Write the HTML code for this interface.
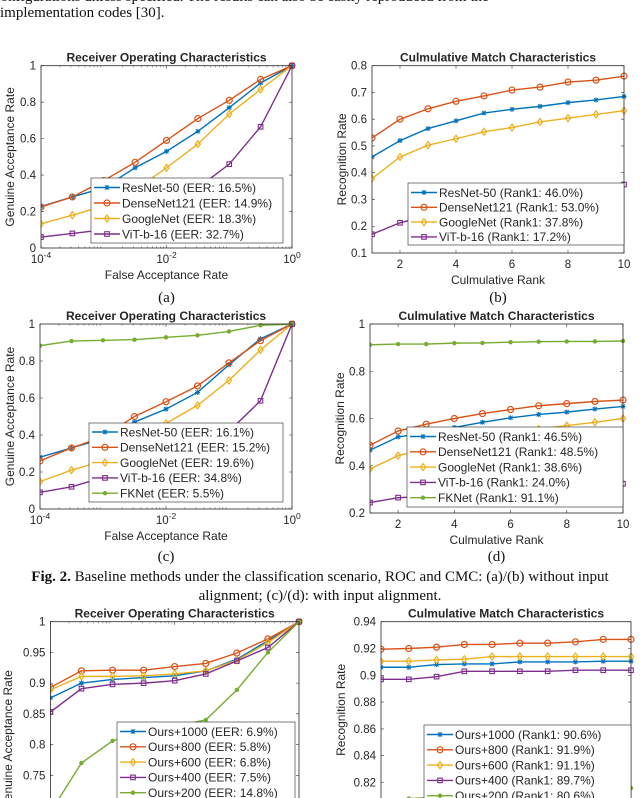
<!DOCTYPE html>
<html><head><meta charset="utf-8">
<style>
html,body{margin:0;padding:0;background:#fff;width:640px;height:798px;overflow:hidden}
svg{display:block}
text{font-family:"Liberation Sans",sans-serif;fill:#262626}
.serif{font-family:"Liberation Serif",serif;fill:#111}
</style></head>
<body>
<svg id="fig" width="640" height="798" viewBox="0 0 640 798" xmlns="http://www.w3.org/2000/svg">
<text class="serif" x="-6" y="1" font-size="15">configurations unless specified. The results can also be easily reproduced from the</text>
<text class="serif" x="0" y="17" font-size="15">implementation codes [30].</text>
<text class="serif" x="320" y="581" font-size="15" text-anchor="middle"><tspan font-weight="bold">Fig. 2.</tspan> Baseline methods under the classification scenario, ROC and CMC: (a)/(b) without input</text>
<text class="serif" x="320" y="600" font-size="15" text-anchor="middle">alignment; (c)/(d): with input alignment.</text>
</svg>
<script>
// ---- data ----
const rocFar = [1e-4, 3.16e-4, 1e-3, 3.16e-3, 1e-2, 3.16e-2, 1e-1, 3.16e-1, 1];
const cmcRanks = [1,2,3,4,5,6,7,8,9,10];

const aNames = ["ResNet-50 (EER: 16.5%)","DenseNet121 (EER: 14.9%)","GoogleNet (EER: 18.3%)","ViT-b-16 (EER: 32.7%)"];
const aResNet = [0.228,0.28,0.33,0.44,0.53,0.64,0.77,0.905,1];
const aDense = [0.225,0.28,0.37,0.47,0.59,0.71,0.81,0.925,1];
const aGoogle = [0.133,0.18,0.23,0.32,0.44,0.57,0.735,0.87,1];
const aViT = [0.06,0.08,0.10,0.15,0.25,0.33,0.46,0.665,1];

const bNames = ["ResNet-50 (Rank1: 46.0%)","DenseNet121 (Rank1: 53.0%)","GoogleNet (Rank1: 37.8%)","ViT-b-16 (Rank1: 17.2%)"];
const bResNet = [0.459,0.52,0.565,0.594,0.623,0.637,0.648,0.662,0.672,0.685];
const bDense = [0.53,0.60,0.639,0.667,0.687,0.709,0.72,0.739,0.746,0.761];
const bGoogle = [0.378,0.459,0.503,0.527,0.553,0.569,0.59,0.604,0.618,0.632];
const bViT = [0.17,0.213,0.24,0.26,0.28,0.30,0.31,0.33,0.34,0.356];

const cNames = ["ResNet-50 (EER: 16.1%)","DenseNet121 (EER: 15.2%)","GoogleNet (EER: 19.6%)","ViT-b-16 (EER: 34.8%)","FKNet (EER: 5.5%)"];
const cResNet = [0.28,0.33,0.38,0.47,0.54,0.63,0.78,0.92,1];
const cDense = [0.26,0.33,0.39,0.50,0.58,0.665,0.79,0.91,1];
const cGoogle = [0.148,0.21,0.26,0.35,0.463,0.56,0.695,0.86,1];
const cViT = [0.09,0.12,0.17,0.22,0.28,0.35,0.42,0.585,1];
const cFK = [0.883,0.908,0.912,0.915,0.928,0.939,0.96,0.993,1];

const dNames = ["ResNet-50 (Rank1: 46.5%)","DenseNet121 (Rank1: 48.5%)","GoogleNet (Rank1: 38.6%)","ViT-b-16 (Rank1: 24.0%)","FKNet (Rank1: 91.1%)"];
const dResNet = [0.466,0.522,0.54,0.562,0.584,0.603,0.617,0.627,0.64,0.651];
const dDense = [0.487,0.547,0.576,0.6,0.621,0.638,0.654,0.663,0.672,0.678];
const dGoogle = [0.386,0.443,0.47,0.5,0.52,0.54,0.555,0.57,0.584,0.6];
const dViT = [0.244,0.265,0.27,0.28,0.29,0.30,0.305,0.31,0.315,0.324];
const dFK = [0.912,0.915,0.915,0.919,0.92,0.923,0.925,0.926,0.926,0.928];

const eNames = ["Ours+1000 (EER: 6.9%)","Ours+800 (EER: 5.8%)","Ours+600 (EER: 6.8%)","Ours+400 (EER: 7.5%)","Ours+200 (EER: 14.8%)"];
const e1000 = [0.876,0.9,0.906,0.909,0.912,0.92,0.939,0.969,1];
const e800 = [0.893,0.92,0.921,0.921,0.927,0.932,0.949,0.972,1];
const e600 = [0.889,0.911,0.911,0.912,0.915,0.92,0.937,0.966,1];
const e400 = [0.853,0.891,0.898,0.9,0.904,0.915,0.936,0.958,1];
const e200 = [0.69,0.77,0.806,0.82,0.83,0.84,0.889,0.95,1];

const fNames = ["Ours+1000 (Rank1: 90.6%)","Ours+800 (Rank1: 91.9%)","Ours+600 (Rank1: 91.1%)","Ours+400 (Rank1: 89.7%)","Ours+200 (Rank1: 80.6%)"];
const f1000 = [0.906,0.906,0.908,0.9085,0.9085,0.91,0.91,0.91,0.9105,0.9105];
const f800 = [0.9195,0.92,0.921,0.923,0.923,0.924,0.924,0.925,0.9268,0.9268];
const f600 = [0.9105,0.9105,0.9115,0.912,0.914,0.914,0.914,0.914,0.914,0.914];
const f400 = [0.897,0.897,0.899,0.903,0.903,0.903,0.903,0.9038,0.9038,0.9038];
const f200 = [0.806,0.808,0.809,0.81,0.811,0.812,0.813,0.814,0.815,0.8158];

const rocYTicks = [0,0.2,0.4,0.6,0.8,1];
const rocXTicks = [-4,-2,0];
const bYTicks = [0.1,0.2,0.3,0.4,0.5,0.6,0.7,0.8];
const cmcXTicks = [2,4,6,8,10];
const dYTicks = [0.2,0.4,0.6,0.8,1];
const eYTicks = [0.75,0.8,0.85,0.9,0.95,1];
const fYTicks = [0.82,0.84,0.86,0.88,0.9,0.92,0.94];

// ---- rendering ----
const NS = "http://www.w3.org/2000/svg";
const svg = document.getElementById('fig');
const C = {blue:"#0072BD",orange:"#D95319",yellow:"#EDB120",purple:"#7E2F8E",green:"#77AC30"};
function mk(tag, attrs, parent){const e=document.createElementNS(NS,tag);for(const k in attrs)e.setAttribute(k,attrs[k]);(parent||svg).appendChild(e);return e;}
function marker(g,type,x,y,col){
  if(type==='star'){mk('path',{d:`M${x-2.5} ${y}H${x+2.5}M${x} ${y-2.5}V${y+2.5}M${x-2} ${y-2}L${x+2} ${y+2}M${x-2} ${y+2}L${x+2} ${y-2}`,stroke:col,'stroke-width':1,fill:'none'},g);}
  else if(type==='circle'){mk('circle',{cx:x,cy:y,r:3,stroke:col,'stroke-width':1.2,fill:'none'},g);}
  else if(type==='diamond'){mk('path',{d:`M${x} ${y-3.5}L${x+2.6} ${y}L${x} ${y+3.5}L${x-2.6} ${y}Z`,stroke:col,'stroke-width':1.2,fill:'none'},g);}
  else if(type==='square'){mk('rect',{x:x-2.3,y:y-2.3,width:4.6,height:4.6,stroke:col,'stroke-width':1.1,fill:'none'},g);}
  else if(type==='dot'){mk('circle',{cx:x,cy:y,r:2.2,fill:col},g);}
}
function chart(cfg){
  const g=mk('g',{});  
  const {x0,x1,y0,y1}=cfg;
  const sx=v=>{const t=cfg.log?Math.log10(v):v;return x0+(t-cfg.xmin)/(cfg.xmax-cfg.xmin)*(x1-x0);};
  const sy=v=>y1-(v-cfg.ymin)/(cfg.ymax-cfg.ymin)*(y1-y0);
  const cid='clip-'+cfg.name;
  const cp=mk('clipPath',{id:cid},g); mk('rect',{x:x0,y:y0-5,width:x1-x0+5,height:y1-y0+5},cp);
  cfg.yticks.forEach(t=>{const y=sy(t);
    mk('path',{d:`M${x0} ${y}h3M${x1} ${y}h-3`,stroke:'#333','stroke-width':0.6},g);
    const tx=mk('text',{x:x0-5,y:y+4,'font-size':11.5,'text-anchor':'end'},g);tx.textContent=String(t);
    });
  cfg.xticks.forEach(t=>{const x=cfg.log?x0+(t-cfg.xmin)/(cfg.xmax-cfg.xmin)*(x1-x0):sx(t);
    mk('path',{d:`M${x} ${y1}v-3M${x} ${y0}v3`,stroke:'#333','stroke-width':0.6},g);
    const tx=mk('text',{x:x,y:y1+15,'font-size':11.5,'text-anchor':'middle'},g);
    
    if(cfg.log){tx.textContent='10';const s=mk('tspan',{dy:-5,'font-size':8.5},tx);s.textContent=String(t);}else tx.textContent=String(t);});
  if(cfg.log){for(let d=cfg.xmin;d<cfg.xmax;d++)for(let k=2;k<10;k++){const x=x0+(d+Math.log10(k)-cfg.xmin)/(cfg.xmax-cfg.xmin)*(x1-x0);
    mk('path',{d:`M${x} ${y1}v-1.8M${x} ${y0}v1.8`,stroke:'#555','stroke-width':0.5},g);}}
  const sg=mk('g',{'clip-path':`url(#${cid})`},g);
  cfg.series.forEach(s=>{
    const pts=cfg.xs.map((xv,i)=>[sx(xv),sy(s.vals[i])]);
    const pl=mk('polyline',{points:pts.map(p=>p.join(',')).join(' '),fill:'none',stroke:s.color,'stroke-width':1.4},sg);
    
    pts.forEach(p=>marker(sg,s.marker,p[0],p[1],s.color));
  });
  mk('rect',{x:x0,y:y0,width:x1-x0,height:y1-y0,fill:'none',stroke:'#262626','stroke-width':0.8},g);
  const ti=mk('text',{x:(x0+x1)/2,y:y0-4,'font-size':12,'font-weight':'bold','text-anchor':'middle',fill:'#000'},g);ti.textContent=cfg.title;
  
  const xl=mk('text',{x:(x0+x1)/2,y:y1+31,'font-size':12,'text-anchor':'middle'},g);xl.textContent=cfg.xlabel;
  
  const yl=mk('text',{x:0,y:0,'font-size':12,'text-anchor':'middle',transform:`translate(${cfg.ylx},${(y0+Math.min(y1,798))/2+(cfg.yloff||0)}) rotate(-90)`},g);yl.textContent=cfg.ylabel;
  
  if(cfg.panel){const pl=mk('text',{x:(x0+x1)/2,y:cfg.panelY,'font-size':15,'text-anchor':'middle',class:'serif'},g);pl.textContent=cfg.panel;
    }
  const L=cfg.legend;const lg=mk('g',{},g);
  
  mk('rect',{x:L.x,y:L.y,width:L.w,height:L.h,fill:'#fff',stroke:'#262626','stroke-width':0.6},lg);
  cfg.series.forEach((s,i)=>{const cy=L.y+L.pad+i*L.row;
    const e=mk('g',{},lg);
    mk('line',{x1:L.x+3,x2:L.x+29,y1:cy,y2:cy,stroke:s.color,'stroke-width':1.4},e);
    marker(e,s.marker,L.x+16,cy,s.color);
    const t=mk('text',{x:L.x+31,y:cy+4.3,'font-size':12},e);t.textContent=s.name;});
}
const mS=['star','circle','diamond','square','dot'];
const cols=[C.blue,C.orange,C.yellow,C.purple,C.green];
function ser(names,arrs){return arrs.map((v,i)=>({name:names[i],vals:v,color:cols[i],marker:mS[i]}));}

chart({name:'roc-chart-a',x0:41,x1:292,y0:65.7,y1:248,log:true,xmin:-4,xmax:0,ymin:0,ymax:1,xs:rocFar,
  yticks:rocYTicks,xticks:rocXTicks,title:'Receiver Operating Characteristics',xlabel:'False Acceptance Rate',ylabel:'Genuine Acceptance Rate',ylx:14,panel:'(a)',panelY:302,
  series:ser(aNames,[aResNet,aDense,aGoogle,aViT]),legend:{x:91,y:178,w:192,h:65,pad:9.5,row:15.5}});
chart({name:'cmc-chart-b',x0:372,x1:624,y0:65.7,y1:253,xmin:1,xmax:10,ymin:0.1,ymax:0.8,xs:cmcRanks,
  yticks:bYTicks,xticks:cmcXTicks,title:'Culmulative Match Characteristics',xlabel:'Culmulative Rank',ylabel:'Recognition Rate',ylx:346,panel:'(b)',panelY:302,
  series:ser(bNames,[bResNet,bDense,bGoogle,bViT]),legend:{x:408,y:183,w:216,h:62,pad:9.5,row:14.8}});
chart({name:'roc-chart-c',x0:40,x1:292,y0:324,y1:509,log:true,xmin:-4,xmax:0,ymin:0,ymax:1,xs:rocFar,
  yticks:rocYTicks,xticks:rocXTicks,title:'Receiver Operating Characteristics',xlabel:'False Acceptance Rate',ylabel:'Genuine Acceptance Rate',ylx:14,panel:'(c)',panelY:561,
  series:ser(cNames,[cResNet,cDense,cGoogle,cViT,cFK]),legend:{x:89,y:423,w:194,h:79,pad:9,row:15.3}});
chart({name:'cmc-chart-d',x0:370,x1:623,y0:324,y1:513,xmin:1,xmax:10,ymin:0.2,ymax:1,xs:cmcRanks,
  yticks:dYTicks,xticks:cmcXTicks,title:'Culmulative Match Characteristics',xlabel:'Culmulative Rank',ylabel:'Recognition Rate',ylx:344,panel:'(d)',panelY:561,
  series:ser(dNames,[dResNet,dDense,dGoogle,dViT,dFK]),legend:{x:407,y:427,w:216,h:80,pad:9.5,row:15.3}});
chart({name:'roc-chart-e',x0:50.4,x1:299,y0:621.7,y1:806,log:true,xmin:-4,xmax:0,ymin:0.7,ymax:1,xs:rocFar,
  yticks:eYTicks,xticks:rocXTicks,title:'Receiver Operating Characteristics',xlabel:'',ylabel:'Genuine Acceptance Rate',ylx:12,yloff:30,
  series:ser(eNames,[e1000,e800,e600,e400,e200]),legend:{x:117,y:722,w:178,h:90,pad:9.5,row:15.3}});
chart({name:'cmc-chart-f',x0:381,x1:631,y0:621.7,y1:809.3,xmin:1,xmax:10,ymin:0.8,ymax:0.94,xs:cmcRanks,
  yticks:fYTicks,xticks:[],title:'Culmulative Match Characteristics',xlabel:'',ylabel:'Recognition Rate',ylx:345,yloff:0,
  series:ser(fNames,[f1000,f800,f600,f400,f200]),legend:{x:424,y:725,w:207,h:90,pad:9.5,row:15.3}});
</script>
</body></html>
